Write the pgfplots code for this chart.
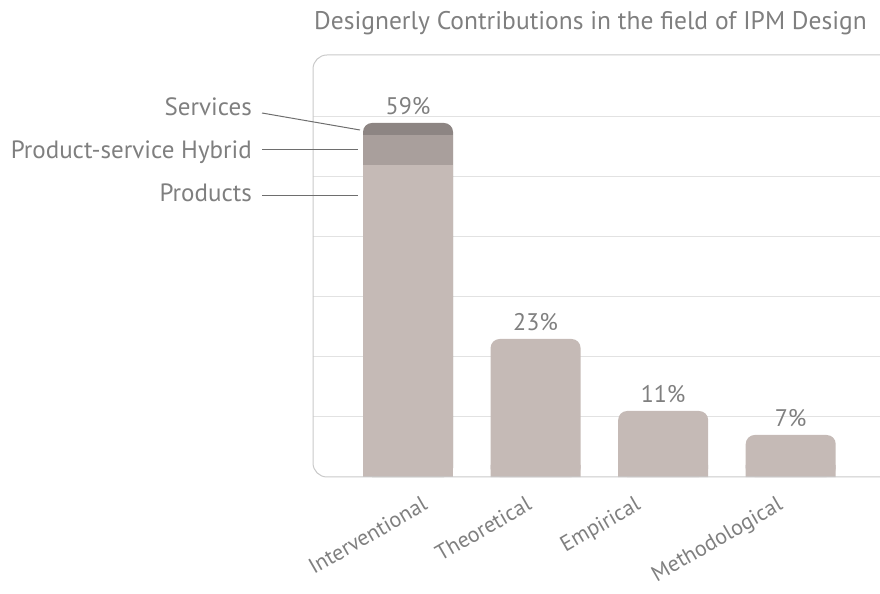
\documentclass[border=0pt]{standalone}
\usepackage{pgfplots}
\pgfplotsset{compat=1.18}
\usepackage{fontspec}
\setmainfont{PT Sans}
\definecolor{txt}{HTML}{7F7F7F}
\definecolor{barc}{HTML}{C5BAB6}
\definecolor{hyb}{HTML}{A99F9C}
\definecolor{serv}{HTML}{8D8583}
\definecolor{gridc}{HTML}{E2E2E2}
\definecolor{framec}{HTML}{C9C9C9}
\definecolor{leader}{HTML}{6E6E6E}
\begin{document}
\begin{tikzpicture}
\useasboundingbox (0,0) rectangle (880bp,594bp);
\begin{axis}[
  at={(313bp,117bp)}, anchor=south west,
  scale only axis, width=567bp, height=422bp,
  xmin=-0.745, xmax=3.70, ymin=0, ymax=70.33,
  ytick={10,20,30,40,50,60}, yticklabels={},
  ymajorgrids, grid style={draw=gridc, line width=1bp},
  major tick length=0pt,
  axis line style={draw=none},
  xtick={0.157,0.973,1.827,2.941},
  xticklabels={Interventional,Theoretical,Empirical,Methodological},
  xticklabel style={font=\fontsize{22bp}{26bp}\selectfont, text=txt, xshift=-7bp, yshift=-18bp, rotate=30, anchor=north east, inner sep=0pt},
  ybar, bar width=90bp, bar shift=0pt,
  clip=false,
  nodes near coords, point meta=explicit symbolic,
  every node near coord/.append style={font=\fontsize{24bp}{28bp}\selectfont, text=txt, anchor=south, inner sep=0pt, yshift=8bp},
]
% Interventional: Services on top of Product-service Hybrid on top of Products
\addplot[fill=serv, draw=none, rounded corners=9bp] coordinates {(0,59) [59\%]};
\addplot[fill=hyb, draw=none] coordinates {(0,57) []};
\addplot[fill=barc, draw=none] coordinates {(0,52) []};
% other contribution types
\addplot[fill=barc, draw=none, rounded corners=9bp] coordinates {(1,23) [23\%] (2,11) [11\%] (3,7) [7\%]};
% square feet of the rounded bars
\addplot[fill=barc, draw=none, forget plot] coordinates {(1,2) [] (2,2) [] (3,2) []};
\end{axis}
\draw[framec, line width=1bp, rounded corners=14bp] (900bp,539bp) -- (313bp,539bp) -- (313bp,117bp) -- (900bp,117bp);
\node[font=\fontsize{25.5bp}{30bp}\selectfont, text=txt, anchor=base] at (590.5bp,564bp) {Designerly Contributions in the field of IPM Design};
\node[font=\fontsize{25bp}{29bp}\selectfont, text=txt, anchor=base east, inner sep=0pt] at (252bp,478bp) {Services};
\node[font=\fontsize{25bp}{29bp}\selectfont, text=txt, anchor=base east, inner sep=0pt] at (252bp,435bp) {Product-service Hybrid};
\node[font=\fontsize{25bp}{29bp}\selectfont, text=txt, anchor=base east, inner sep=0pt] at (252bp,392bp) {Products};
\draw[leader, line width=1bp] (262bp,481bp) -- (360bp,464bp);
\draw[leader, line width=1bp] (262bp,444bp) -- (358bp,444bp);
\draw[leader, line width=1bp] (262bp,398bp) -- (358bp,398bp);
\end{tikzpicture}
\end{document}
